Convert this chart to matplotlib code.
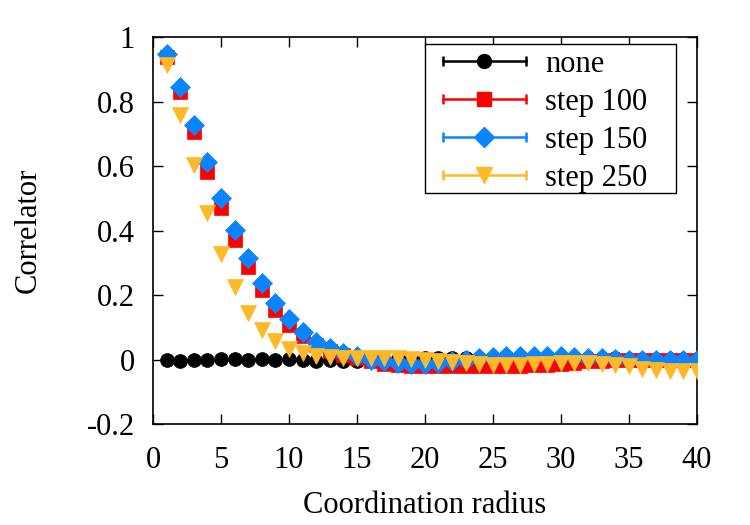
import matplotlib
matplotlib.use("Agg")
import matplotlib.pyplot as plt
from matplotlib.lines import Line2D
from matplotlib.patches import Rectangle
from matplotlib.legend_handler import HandlerBase

plt.rcParams['font.family'] = ['Liberation Serif', 'DejaVu Serif']
plt.rcParams['mathtext.fontset'] = 'stix'

radius = list(range(1, 41))

none_vals = [0.000, -0.003, -0.002, 0.000, 0.002, 0.001, 0.000, 0.001, 0.000, 0.001,
             0.000, -0.004, -0.002, -0.005, -0.003, -0.002, 0.000, 0.002, 0.003, 0.004,
             0.005, 0.006, 0.005, 0.004, 0.003, 0.003, 0.002, 0.002, 0.003, 0.004,
             0.004, 0.005, 0.005, 0.004, 0.003, 0.002, 0.002, 0.002, 0.002, 0.002]
step100 = [0.939, 0.830, 0.707, 0.583, 0.472, 0.372, 0.287, 0.215, 0.155, 0.108,
           0.072, 0.046, 0.028, 0.015, 0.004, -0.005, -0.012, -0.017, -0.020, -0.020,
           -0.020, -0.020, -0.020, -0.020, -0.020, -0.018, -0.018, -0.016, -0.015, -0.013,
           -0.010, -0.005, -0.003, 0.000, 0.000, 0.000, 0.000, 0.000, 0.000, 0.000]
step150 = [0.947, 0.846, 0.729, 0.614, 0.502, 0.402, 0.315, 0.239, 0.176, 0.126,
           0.087, 0.056, 0.036, 0.022, 0.010, 0.000, -0.005, -0.010, -0.012, -0.012,
           -0.010, -0.005, 0.000, 0.005, 0.008, 0.010, 0.012, 0.012, 0.012, 0.010,
           0.008, 0.005, 0.005, 0.003, 0.000, 0.000, 0.000, 0.000, 0.000, 0.000]
step250 = [0.915, 0.758, 0.604, 0.456, 0.328, 0.227, 0.146, 0.093, 0.057, 0.033,
           0.020, 0.012, 0.008, 0.006, 0.005, 0.005, 0.005, 0.004, 0.002, 0.000,
           -0.003, -0.006, -0.010, -0.013, -0.015, -0.015, -0.015, -0.013, -0.012, -0.010,
           -0.010, -0.010, -0.012, -0.015, -0.020, -0.028, -0.033, -0.036, -0.036, -0.035]

err_none, err_100, err_150, err_250 = 0.003, 0.003, 0.003, 0.003

labels = ['none', 'step 100', 'step 150', 'step 250']
colors = ['#000000', '#ff0000', '#0a84ff', '#ffb928']
markers = ['o', 's', 'D', 'v']
sizes = [10, 10.5, 10.5, 11.5]

x_ticks = [0, 5, 10, 15, 20, 25, 30, 35, 40]
y_ticks = [-0.2, 0, 0.2, 0.4, 0.6, 0.8, 1]
y_tick_labels = ['-0.2', '0', '0.2', '0.4', '0.6', '0.8', '1']

fig = plt.figure(figsize=(7.5, 5.25), dpi=100)
ax = fig.add_axes([0.204, 0.192, 0.725, 0.737])

series = [none_vals, step100, step150, step250]
errs = [err_none, err_100, err_150, err_250]
for vals, err, c, m, s, lab in zip(series, errs, colors, markers, sizes, labels):
    ax.errorbar(radius, vals, yerr=err, fmt=m, color=c, ms=s, mec=c, mew=0.5,
                elinewidth=1.5, capsize=3, label=lab, zorder=3)

ax.set_xlim(0, 40)
ax.set_ylim(-0.2, 1)
ax.set_xticks(x_ticks)
ax.set_xticklabels([str(t) for t in x_ticks])
ax.set_yticks(y_ticks)
ax.set_yticklabels(y_tick_labels)
ax.tick_params(direction='in', length=7, width=1, top=True, right=True,
               labelsize=22)
ax.tick_params(axis='x', pad=16)
ax.tick_params(axis='y', pad=13)
for sp in ax.spines.values():
    sp.set_linewidth(1.2)

ax.set_xlabel('Coordination radius', fontsize=22, labelpad=11)
ax.set_ylabel('Correlator', fontsize=22, labelpad=32)


class CapLineHandler(HandlerBase):
    def create_artists(self, legend, orig_handle, xdescent, ydescent, width,
                       height, fontsize, trans):
        c = orig_handle.get_color()
        m = orig_handle.get_marker()
        ms = orig_handle.get_markersize()
        y = height / 2 - ydescent
        x0 = -xdescent
        x1 = x0 + width
        line = Line2D([x0, x1], [y, y], color=c, lw=1.8)
        caps = Line2D([x0, x1], [y, y], ls='none', marker='|', ms=7, mew=1.8, color=c)
        mk = Line2D([(x0 + x1) / 2], [y], ls='none', marker=m, ms=ms, color=c, mec=c)
        for a in (line, caps, mk):
            a.set_transform(trans)
        return [line, caps, mk]


# legend frame drawn separately (gnuplot-style key box)
frame = Rectangle((0.5, 0.597), 0.461, 0.385, transform=ax.transAxes,
                  facecolor='white', edgecolor='black', lw=1.0, zorder=4)
ax.add_patch(frame)

proxies = [Line2D([], [], color=c, marker=m, ms=s) for c, m, s in zip(colors, markers, sizes)]
leg = ax.legend(proxies, labels, loc='upper left', bbox_to_anchor=(0.533, 0.968),
                borderaxespad=0, fontsize=22, frameon=False,
                handlelength=2.72, handletextpad=0.62,
                labelspacing=0.3, borderpad=0,
                handler_map={Line2D: CapLineHandler()})
leg.set_zorder(5)

fig.savefig('out.png', dpi=100, facecolor='white')
